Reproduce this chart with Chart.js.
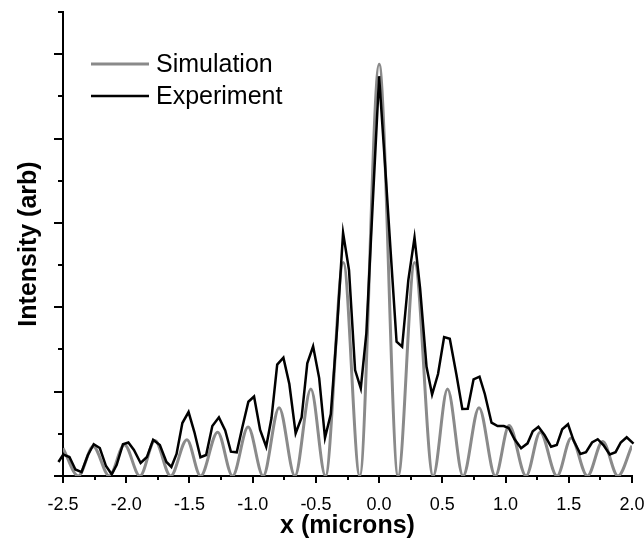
<!DOCTYPE html>
<html>
<head>
<meta charset="utf-8">
<script src="https://cdn.jsdelivr.net/npm/chart.js@4.4.0/dist/chart.umd.min.js"></script>
<style>
  html, body { margin: 0; padding: 0; background: #fff; }
  canvas { display: block; }
</style>
</head>
<body>
<canvas id="chart" width="644" height="541"></canvas>
<script>
// Simulation: fringe maxima and zeros
const simX = [-2.5, -2.379, -2.261, -2.134, -2.014, -1.892, -1.773, -1.649, -1.520, -1.412,
  -1.277, -1.159, -1.036, -0.917, -0.791, -0.666, -0.540, -0.424, -0.283, -0.153,
  0, 0.150, 0.281, 0.427, 0.541, 0.664, 0.790, 0.919, 1.028, 1.162,
  1.274, 1.407, 1.519, 1.647, 1.768, 1.889, 2.0];
const simY = [0.33, 0, 0.35, 0, 0.37, 0, 0.42, 0, 0.43, 0,
  0.52, 0, 0.58, 0, 0.81, 0, 1.03, 0, 2.53, 0,
  4.88, 0, 2.53, 0, 1.03, 0, 0.81, 0, 0.60, 0,
  0.52, 0, 0.45, 0, 0.41, 0, 0.36];

// Experiment: vertices of the measured (black) trace
const expX = [-2.536, -2.498, -2.449, -2.402, -2.353, -2.303, -2.257, -2.209, -2.160, -2.115,
  -2.076, -2.026, -1.983, -1.939, -1.886, -1.836, -1.787, -1.734, -1.682, -1.643,
  -1.602, -1.556, -1.507, -1.461, -1.413, -1.368, -1.319, -1.267, -1.217, -1.172,
  -1.126, -1.083, -1.034, -0.989, -0.941, -0.893, -0.851, -0.806, -0.757, -0.710,
  -0.660, -0.613, -0.568, -0.522, -0.474, -0.428, -0.382, -0.334, -0.285, -0.238,
  -0.190, -0.145, -0.101, -0.050, 0, 0.046, 0.092, 0.138, 0.182, 0.231,
  0.280, 0.324, 0.375, 0.419, 0.466, 0.514, 0.559, 0.612, 0.658, 0.701,
  0.747, 0.794, 0.836, 0.889, 0.937, 0.986, 1.025, 1.070, 1.123, 1.174,
  1.215, 1.260, 1.308, 1.360, 1.405, 1.448, 1.494, 1.539, 1.592, 1.636,
  1.684, 1.729, 1.774, 1.824, 1.870, 1.911, 1.958, 2.012];
const expY = [0.166, 0.255, 0.225, 0.077, 0.047, 0.249, 0.377, 0.332, 0.118, 0.020,
  0.130, 0.377, 0.397, 0.308, 0.154, 0.225, 0.430, 0.367, 0.166, 0.107,
  0.261, 0.628, 0.758, 0.521, 0.222, 0.249, 0.592, 0.695, 0.539, 0.288,
  0.281, 0.569, 0.880, 0.942, 0.545, 0.347, 0.687, 1.321, 1.402, 1.090,
  0.506, 0.693, 1.335, 1.537, 1.161, 0.453, 0.735, 1.718, 2.883, 2.441,
  1.256, 1.039, 1.691, 3.246, 4.739, 3.709, 2.642, 1.591, 1.532, 2.322,
  2.826, 2.227, 1.295, 0.966, 1.209, 1.647, 1.626, 1.197, 0.794, 0.797,
  1.146, 1.177, 0.972, 0.632, 0.592, 0.592, 0.569, 0.438, 0.328, 0.387,
  0.530, 0.584, 0.486, 0.347, 0.367, 0.553, 0.613, 0.417, 0.261, 0.282,
  0.397, 0.436, 0.367, 0.255, 0.282, 0.397, 0.459, 0.383];

const xTicks = [-2.5, -2.0, -1.5, -1.0, -0.5, 0.0, 0.5, 1.0, 1.5, 2.0];
const xTickLabels = ['-2.5', '-2.0', '-1.5', '-1.0', '-0.5', '0.0', '0.5', '1.0', '1.5', '2.0'];
const xMinorTicks = [-2.25, -1.75, -1.25, -0.75, -0.25, 0.25, 0.75, 1.25, 1.75];
const yTicks = [0, 1, 2, 3, 4, 5];
const yMinorTicks = [0.5, 1.5, 2.5, 3.5, 4.5, 5.5];

const seriesNames = ['Simulation', 'Experiment'];
const FONT = "'Liberation Sans', Arial, sans-serif";

// outward tick marks + the in-plot legend
const axisTicks = {
  id: 'axisTicks',
  afterDraw(chart) {
    const { ctx, chartArea: a, scales: { x, y } } = chart;
    ctx.save();
    ctx.strokeStyle = '#000';
    ctx.lineWidth = 2;
    ctx.beginPath();
    xTicks.forEach(v => {
      const px = Math.round(x.getPixelForValue(v));
      ctx.moveTo(px, a.bottom); ctx.lineTo(px, a.bottom + 7);
    });
    xMinorTicks.forEach(v => {
      const px = Math.round(x.getPixelForValue(v));
      ctx.moveTo(px, a.bottom); ctx.lineTo(px, a.bottom + 4);
    });
    yTicks.forEach(v => {
      const py = Math.round(y.getPixelForValue(v));
      ctx.moveTo(a.left, py); ctx.lineTo(a.left - 9, py);
    });
    yMinorTicks.forEach(v => {
      const py = Math.round(y.getPixelForValue(v));
      ctx.moveTo(a.left, py); ctx.lineTo(a.left - 5, py);
    });
    ctx.stroke();

    // legend
    const lx = a.left + 28, ly = a.top + 52;
    chart.data.datasets.forEach((ds, i) => {
      const yy = ly + i * 32;
      ctx.strokeStyle = ds.borderColor;
      ctx.lineWidth = ds.borderWidth;
      ctx.beginPath();
      ctx.moveTo(lx, yy); ctx.lineTo(lx + 58, yy);
      ctx.stroke();
      ctx.fillStyle = '#000';
      ctx.font = '25px ' + FONT;
      ctx.textBaseline = 'middle';
      ctx.fillText(ds.label, lx + 65, yy + 1);
    });
    ctx.restore();
  }
};

new Chart(document.getElementById('chart'), {
  type: 'line',
  data: {
    datasets: [
      {
        label: seriesNames[0],
        data: simX.map((v, i) => ({ x: v, y: simY[i] })),
        borderColor: '#8a8a8a',
        borderWidth: 3,
        pointRadius: 0,
        cubicInterpolationMode: 'monotone',
        order: 2
      },
      {
        label: seriesNames[1],
        data: expX.map((v, i) => ({ x: v, y: expY[i] })),
        borderColor: '#000',
        borderWidth: 2.5,
        pointRadius: 0,
        tension: 0,
        clip: false,
        order: 1
      }
    ]
  },
  options: {
    responsive: false,
    animation: false,
    devicePixelRatio: 1,
    layout: { padding: { top: 12, right: 12, left: 0, bottom: 0 } },
    plugins: { legend: { display: false }, tooltip: { enabled: false } },
    scales: {
      x: {
        type: 'linear',
        min: -2.5,
        max: 2.0,
        grid: { display: false },
        border: { display: true, color: '#000', width: 2 },
        afterBuildTicks: scale => { scale.ticks = xTicks.map(v => ({ value: v })); },
        afterFit: scale => { scale.height = 65; scale.paddingLeft = 0; scale.paddingRight = 0; },
        ticks: {
          autoSkip: false,
          maxRotation: 0,
          padding: 10,
          color: '#000',
          font: { family: FONT, size: 18 },
          callback: (v, i) => xTickLabels[i]
        },
        title: {
          display: true,
          text: 'x (microns)',
          color: '#000',
          font: { family: FONT, size: 25, weight: 'bold' },
          padding: { top: 0, bottom: 0 }
        }
      },
      y: {
        min: 0,
        max: 5.5,
        grid: { display: false },
        border: { display: true, color: '#000', width: 2 },
        ticks: { display: false },
        afterFit: scale => { scale.width = 63; },
        title: {
          display: true,
          text: 'Intensity (arb)',
          color: '#000',
          font: { family: FONT, size: 25, weight: 'bold' },
          padding: { top: 14, bottom: 0 }
        }
      }
    }
  },
  plugins: [axisTicks]
});
</script>
</body>
</html>
